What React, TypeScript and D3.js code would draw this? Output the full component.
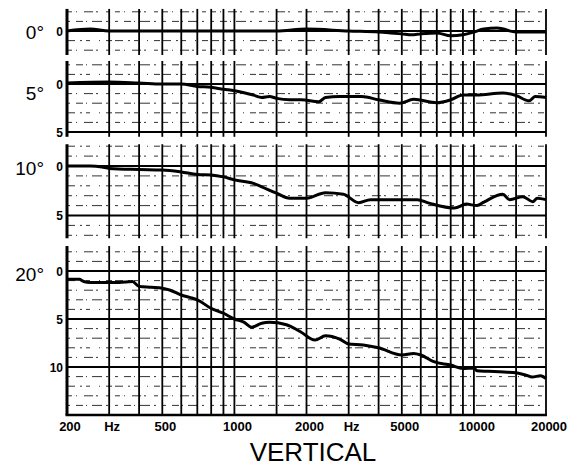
import React from "react";
import * as d3 from "d3";

// grid + labels
const gridFreqs = [200, 300, 400, 500, 600, 700, 800, 900, 1000, 1500, 2000, 3000, 4000, 5000, 6000, 7000, 8000, 9000, 10000, 15000, 20000];
const xLabelFreqs = [200, 300, 500, 1000, 2000, 3000, 5000, 10000, 20000];
const xLabels = ["200", "Hz", "500", "1000", "2000", "Hz", "5000", "10000", "20000"];
const panelNames = ["0°", "5°", "10°", "20°"];

// response curves, dB down from 0
const freqs0 = [200, 250, 300, 500, 1000, 1500, 2000, 3000, 4000, 4500, 5000, 5500, 6000, 7000, 8000, 9000, 10000, 11000, 12500, 15000, 20000];
const db0 = [0, -0.2, 0, 0, 0, 0, -0.2, 0, 0.1, 0.2, 0.3, 0.4, 0.3, 0.2, 0.5, 0.4, 0.1, -0.2, -0.3, 0.1, 0.1];

const freqs5 = [200, 300, 400, 500, 600, 700, 800, 900, 1000, 1200, 1300, 1400, 1500, 1700, 1900, 2250, 2400, 2750, 3400, 4000, 4900, 5600, 7000, 8000, 9000, 10300, 13200, 15000, 17000, 18000, 20000];
const db5 = [-0.1, -0.2, -0.1, 0, 0, 0.25, 0.35, 0.55, 0.7, 1.15, 1.4, 1.3, 1.5, 1.65, 1.65, 1.85, 1.4, 1.3, 1.3, 1.65, 2.0, 1.6, 1.95, 1.65, 1.15, 1.15, 0.95, 1.2, 1.75, 1.3, 1.4];

const freqs10 = [200, 250, 280, 300, 400, 500, 600, 700, 800, 900, 1000, 1200, 1300, 1500, 1700, 2000, 2400, 2850, 3300, 3700, 5800, 6500, 8300, 9300, 10300, 11000, 13200, 14100, 16000, 17600, 18400, 20000];
const db10 = [0, 0, 0.1, 0.25, 0.35, 0.4, 0.6, 0.85, 0.9, 1.1, 1.4, 1.75, 2.1, 2.75, 3.25, 3.25, 2.7, 2.85, 3.7, 3.4, 3.4, 3.75, 4.25, 3.85, 4.0, 3.65, 2.85, 3.4, 3.1, 3.6, 3.25, 3.4];

const freqs20 = [200, 225, 235, 250, 330, 375, 400, 450, 500, 540, 600, 650, 700, 800, 900, 1000, 1100, 1180, 1300, 1400, 1650, 1880, 2170, 2400, 2750, 3000, 3450, 4000, 5000, 5600, 6000, 6800, 8000, 9000, 10000, 10300, 11500, 12800, 15000, 16500, 17500, 19000, 20000];
const db20 = [0.87, 0.87, 1.1, 1.2, 1.2, 1.1, 1.6, 1.7, 1.8, 2.0, 2.5, 2.75, 3.0, 3.9, 4.4, 5.0, 5.35, 5.85, 5.45, 5.35, 5.6, 6.3, 7.2, 6.75, 7.1, 7.6, 7.7, 8.0, 8.75, 8.6, 8.75, 9.45, 9.8, 10.15, 10.1, 10.4, 10.45, 10.5, 10.6, 10.85, 11.05, 10.9, 11.2];

const panels = [
  { name: panelNames[0], freqs: freqs0, db: db0, zero: 31, five: 79, lo: -2.3, hi: 2.5, solid: [0], ticks: [0], dots: [-2, -1, 1, 2], bottom: false, nameDy: 8 },
  { name: panelNames[1], freqs: freqs5, db: db5, zero: 84, five: 132, lo: -2.4, hi: 5.5, solid: [0, 5], ticks: [0, 5], dots: [-2, -1, 1, 2, 3, 4], bottom: false, nameDy: 16 },
  { name: panelNames[2], freqs: freqs10, db: db10, zero: 166, five: 215.5, lo: -2.2, hi: 7.3, solid: [0, 5], ticks: [0, 5], dots: [-2, -1, 1, 2, 3, 4, 6, 7], bottom: false, nameDy: 9 },
  { name: panelNames[3], freqs: freqs20, db: db20, zero: 271, five: 319, lo: -2.6, hi: 15, solid: [0, 5, 10], ticks: [0, 5, 10], dots: [-2, -1, 1, 2, 3, 4, 6, 7, 8, 9, 11, 12, 13, 14], bottom: true, nameDy: 10 },
];

const font = "'Liberation Sans', Arial, Helvetica, sans-serif";
const dashes = ["5 4 1 7 9 3 2 8 4 5", "3 6 7 3 1 5 10 4 2 7", "8 5 2 4 4 9 1 6 6 3"];

export default function App() {
  const width = 584;
  const height = 467;
  const x = d3.scaleLog().domain([200, 20000]).range([67, 546]);

  return (
    <div style={{ position: "absolute", left: 0, top: 0 }}>
      <svg width={width} height={height} style={{ display: "block", background: "#fff" }}>
        {panels.map((p, i) => {
          const y = d3.scaleLinear().domain([0, 5]).range([p.zero, p.five]);
          const line = d3
            .line<number>()
            .x((d, k) => x(p.freqs[k]))
            .y((d) => y(d))
            .curve(d3.curveMonotoneX);
          return (
            <g key={i}>
              {/* broken minor rows */}
              {p.dots.map((v, j) => (
                <line
                  key={"d" + v}
                  x1={x(200)}
                  x2={x(20000)}
                  y1={y(v)}
                  y2={y(v)}
                  stroke="#333"
                  strokeWidth={1}
                  strokeDasharray={dashes[(j + i) % 3]}
                />
              ))}
              {/* verticals */}
              {gridFreqs.map((f) => (
                <line
                  key={"v" + f}
                  x1={x(f)}
                  x2={x(f)}
                  y1={y(p.lo)}
                  y2={y(p.hi)}
                  stroke="#000"
                  strokeWidth={f === 200 ? 3 : 1.8}
                />
              ))}
              {/* solid rows */}
              {p.solid.map((v) => (
                <line key={"s" + v} x1={x(200)} x2={x(20000)} y1={y(v)} y2={y(v)} stroke="#000" strokeWidth={2} />
              ))}
              {p.bottom && (
                <line x1={x(200) - 1.5} x2={x(20000) + 1} y1={y(p.hi)} y2={y(p.hi)} stroke="#000" strokeWidth={2.5} />
              )}
              {p.ticks.map((v) => (
                <text
                  key={"t" + v}
                  x={63}
                  y={y(v) + 4.5}
                  textAnchor="end"
                  fontFamily={font}
                  fontWeight="bold"
                  fontSize={12}
                >
                  {v}
                </text>
              ))}
              <text x={44} y={p.zero + p.nameDy} textAnchor="end" fontFamily={font} fontSize={19}>
                {p.name}
              </text>
              <path d={line(p.db) || ""} fill="none" stroke="#000" strokeWidth={3} strokeLinejoin="round" />
            </g>
          );
        })}
        {xLabelFreqs.map((f, i) => (
          <text
            key={"x" + f}
            x={x(f) + 3}
            y={431}
            textAnchor="middle"
            fontFamily={font}
            fontWeight="bold"
            fontSize={13}
          >
            {xLabels[i]}
          </text>
        ))}
        <text x={313} y={461} textAnchor="middle" fontFamily={font} fontSize={26}>
          VERTICAL
        </text>
      </svg>
    </div>
  );
}
